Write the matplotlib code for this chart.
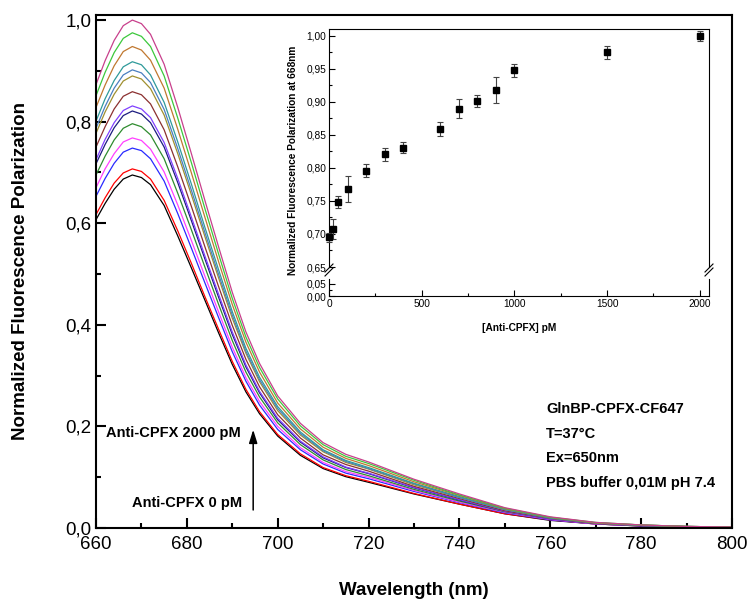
"""Fluorescence polarization spectra of GlnBP-CPFX-CF647 with anti-CPFX titration inset."""

import matplotlib
matplotlib.use("Agg")
import matplotlib.pyplot as plt
from matplotlib.ticker import FuncFormatter, MultipleLocator
import numpy as np

plt.rcParams["font.family"] = ["Liberation Sans", "DejaVu Sans"]

# ── Data ──────────────────────────────────────────────────────────────────
WAVELENGTH = [660, 662, 664, 666, 668, 670, 672, 675, 678, 681, 684, 687, 690, 693,
              696, 700, 705, 710, 715, 720, 730, 740, 750, 760, 770, 780, 790, 800]

FP_0 = [0.607, 0.639, 0.667, 0.687, 0.695, 0.690, 0.676, 0.635, 0.575, 0.512, 0.448, 0.384, 0.322, 0.268,
        0.225, 0.181, 0.143, 0.117, 0.101, 0.090, 0.067, 0.047, 0.028, 0.015, 0.008, 0.004, 0.002, 0.001]
FP_20 = [0.617, 0.650, 0.679, 0.699, 0.707, 0.702, 0.687, 0.645, 0.585, 0.521, 0.455, 0.391, 0.328, 0.273,
         0.229, 0.184, 0.146, 0.119, 0.103, 0.092, 0.068, 0.047, 0.028, 0.016, 0.008, 0.004, 0.002, 0.001]
FP_50 = [0.653, 0.688, 0.718, 0.740, 0.748, 0.743, 0.727, 0.683, 0.619, 0.551, 0.482, 0.414, 0.347, 0.289,
         0.242, 0.194, 0.154, 0.126, 0.108, 0.097, 0.072, 0.050, 0.030, 0.016, 0.008, 0.004, 0.002, 0.001]
FP_100 = [0.670, 0.707, 0.737, 0.760, 0.768, 0.763, 0.746, 0.701, 0.636, 0.566, 0.495, 0.425, 0.356, 0.296,
          0.249, 0.200, 0.158, 0.129, 0.111, 0.100, 0.074, 0.051, 0.031, 0.017, 0.008, 0.005, 0.002, 0.002]
FP_200 = [0.695, 0.732, 0.764, 0.787, 0.796, 0.790, 0.774, 0.727, 0.659, 0.587, 0.513, 0.440, 0.369, 0.307,
          0.258, 0.207, 0.164, 0.134, 0.115, 0.103, 0.076, 0.053, 0.032, 0.018, 0.009, 0.005, 0.002, 0.002]
FP_300 = [0.717, 0.755, 0.788, 0.812, 0.821, 0.815, 0.798, 0.750, 0.680, 0.605, 0.529, 0.454, 0.381, 0.317,
          0.266, 0.213, 0.169, 0.138, 0.119, 0.107, 0.079, 0.055, 0.033, 0.018, 0.009, 0.005, 0.002, 0.002]
FP_400 = [0.725, 0.765, 0.798, 0.822, 0.831, 0.825, 0.808, 0.759, 0.688, 0.612, 0.535, 0.460, 0.386, 0.321,
          0.269, 0.216, 0.171, 0.140, 0.120, 0.108, 0.080, 0.056, 0.033, 0.018, 0.009, 0.005, 0.002, 0.002]
FP_600 = [0.750, 0.790, 0.825, 0.850, 0.859, 0.853, 0.835, 0.784, 0.711, 0.633, 0.553, 0.475, 0.399, 0.332,
          0.278, 0.223, 0.177, 0.144, 0.125, 0.112, 0.082, 0.058, 0.034, 0.019, 0.009, 0.005, 0.003, 0.002]
FP_700 = [0.777, 0.819, 0.854, 0.880, 0.890, 0.884, 0.865, 0.813, 0.737, 0.656, 0.573, 0.492, 0.413, 0.344,
          0.288, 0.231, 0.183, 0.150, 0.129, 0.116, 0.085, 0.060, 0.036, 0.020, 0.010, 0.005, 0.003, 0.002]
FP_800 = [0.787, 0.830, 0.866, 0.892, 0.902, 0.896, 0.877, 0.824, 0.747, 0.665, 0.581, 0.499, 0.419, 0.348,
          0.292, 0.235, 0.186, 0.152, 0.131, 0.117, 0.087, 0.060, 0.036, 0.020, 0.010, 0.005, 0.003, 0.002]
FP_900 = [0.801, 0.845, 0.881, 0.908, 0.918, 0.912, 0.892, 0.838, 0.760, 0.677, 0.591, 0.508, 0.426, 0.354,
          0.297, 0.239, 0.189, 0.154, 0.133, 0.119, 0.088, 0.062, 0.037, 0.020, 0.010, 0.006, 0.003, 0.002]
FP_1000 = [0.828, 0.872, 0.910, 0.938, 0.948, 0.941, 0.921, 0.866, 0.785, 0.699, 0.611, 0.524, 0.440, 0.366,
           0.307, 0.246, 0.195, 0.159, 0.137, 0.123, 0.091, 0.064, 0.038, 0.021, 0.010, 0.006, 0.003, 0.002]
FP_1500 = [0.851, 0.897, 0.936, 0.964, 0.975, 0.968, 0.948, 0.890, 0.807, 0.719, 0.628, 0.539, 0.452, 0.376,
           0.316, 0.254, 0.201, 0.164, 0.141, 0.127, 0.094, 0.065, 0.039, 0.021, 0.011, 0.006, 0.003, 0.002]
FP_2000 = [0.873, 0.920, 0.960, 0.989, 1.000, 0.993, 0.972, 0.913, 0.828, 0.737, 0.644, 0.553, 0.464, 0.386,
           0.324, 0.260, 0.206, 0.168, 0.145, 0.130, 0.096, 0.067, 0.040, 0.022, 0.011, 0.006, 0.003, 0.002]

SPECTRA = [FP_0, FP_20, FP_50, FP_100, FP_200, FP_300, FP_400,
           FP_600, FP_700, FP_800, FP_900, FP_1000, FP_1500, FP_2000]
SPECTRA_COLORS = ["#000000", "#ff0000", "#2a2aff", "#ff40ff", "#2e8b2e", "#1c1c80", "#8040ff",
                  "#8b3030", "#a09030", "#4a7fc0", "#2f9a9a", "#c07830", "#3cc83c", "#c8408c"]

# Inset: normalized FP at 668 nm vs antibody concentration
CONC_PM = [0, 20, 50, 100, 200, 300, 400, 600, 700, 800, 900, 1000, 1500, 2000]
FP_668 = [0.695, 0.707, 0.748, 0.768, 0.796, 0.821, 0.831, 0.859, 0.890, 0.902, 0.918, 0.948, 0.975, 1.000]
FP_668_ERR = [0.007, 0.015, 0.009, 0.020, 0.010, 0.010, 0.008, 0.010, 0.015, 0.009, 0.020, 0.010, 0.010, 0.008]

INFO_LINES = ["GlnBP-CPFX-CF647", "T=37°C", "Ex=650nm", "PBS buffer 0,01M pH 7.4"]


def comma_fmt(decimals):
    return FuncFormatter(lambda v, _: f"{v:.{decimals}f}".replace(".", ","))


def main():
    fig = plt.figure(figsize=(7.47, 6.0), dpi=100)

    # ── Main spectra axes ────────────────────────────────────────────────
    ax = fig.add_axes([96 / 747, 1 - 528 / 600, 636 / 747, 513 / 600])
    for values, color in zip(SPECTRA, SPECTRA_COLORS):
        ax.plot(WAVELENGTH, values, color=color, lw=0.9, solid_joinstyle="round")

    ax.set_xlim(660, 800)
    ax.set_ylim(0, 1.01)
    ax.xaxis.set_major_locator(MultipleLocator(20))
    ax.xaxis.set_minor_locator(MultipleLocator(10))
    ax.yaxis.set_major_locator(MultipleLocator(0.2))
    ax.yaxis.set_minor_locator(MultipleLocator(0.1))
    ax.yaxis.set_major_formatter(comma_fmt(1))
    ax.tick_params(which="both", direction="in", width=1.5, labelsize=13.5)
    ax.tick_params(which="major", length=7)
    ax.tick_params(which="minor", length=3.5)
    ax.tick_params(axis="x", pad=6)
    for s in ax.spines.values():
        s.set_linewidth(1.5)

    ax.set_xlabel("Wavelength (nm)", fontsize=13.5, fontweight="bold", va="center")
    ax.xaxis.set_label_coords(0.5, -0.121)
    ax.set_ylabel("Normalized Fluorescence Polarization", fontsize=13.5,
                  fontweight="bold", va="center")
    ax.yaxis.set_label_coords(-0.119, 0.5)

    # Titration annotations
    ax.text(691.9, 0.187, "Anti-CPFX 2000 pM", ha="right", va="center",
            fontsize=10.5, fontweight="bold")
    ax.text(692.1, 0.049, "Anti-CPFX 0 pM", ha="right", va="center",
            fontsize=10.5, fontweight="bold")
    ax.annotate("", xy=(694.6, 0.199), xytext=(694.6, 0.030),
                arrowprops=dict(arrowstyle="-|>,head_width=0.25,head_length=0.8",
                                color="black", lw=1.1))

    for i, line in enumerate(INFO_LINES):
        ax.text(759.1, 0.234 - i * 0.0485, line, ha="left", va="center",
                fontsize=10.5, fontweight="bold")

    # ── Inset with broken y axis ─────────────────────────────────────────
    left, width = 329 / 747, 380 / 747
    ax_top = fig.add_axes([left, 1 - 267 / 600, width, 238 / 600])
    ax_bot = fig.add_axes([left, 1 - 296 / 600, width, 17 / 600])

    ax_top.errorbar(CONC_PM, FP_668, yerr=FP_668_ERR, fmt="s", color="black",
                    ms=4.8, ecolor="#444444", elinewidth=0.8, capsize=2,
                    capthick=0.8, clip_on=False, zorder=3)

    for a in (ax_top, ax_bot):
        a.set_xlim(0, 2050)
        a.xaxis.set_major_locator(MultipleLocator(500))
        a.xaxis.set_minor_locator(MultipleLocator(250))
        a.yaxis.set_major_formatter(comma_fmt(2))
        a.tick_params(which="both", direction="in", width=0.8, labelsize=7.3,
                      top=False, right=False, pad=2)
        a.tick_params(which="major", length=4)
        a.tick_params(which="minor", length=2)
        for s in a.spines.values():
            s.set_linewidth(0.8)

    ax_top.set_ylim(0.65, 1.0106)
    ax_top.yaxis.set_major_locator(MultipleLocator(0.05))
    ax_top.yaxis.set_minor_locator(MultipleLocator(0.025))
    ax_top.spines["bottom"].set_visible(False)
    ax_top.tick_params(axis="x", which="both", bottom=False, labelbottom=False)

    ax_bot.set_ylim(0, 0.0708)
    ax_bot.set_yticks([0.0, 0.05])
    ax_bot.yaxis.set_minor_locator(MultipleLocator(0.025))
    ax_bot.spines["top"].set_visible(False)

    ax_bot.set_xlabel("[Anti-CPFX] pM", fontsize=7.3, fontweight="bold", labelpad=10)
    ax_top.set_ylabel("Normalized Fluorescence Polarization at 668nm",
                      fontsize=7.3, fontweight="bold", va="center")
    ax_top.yaxis.set_label_coords(-0.095, 0.45)

    # Axis break marks
    mark = dict(color="black", lw=0.8, clip_on=False, transform=fig.transFigure)
    for xpix in (329, 709):
        for dy in (0, 4):
            x0, x1 = (xpix - 4) / 747, (xpix + 4) / 747
            y0, y1 = 1 - (276 + dy - 4) / 600, 1 - (268 + dy - 4) / 600
            fig.lines.append(plt.Line2D([x0, x1], [y0, y1], **mark))

    fig.savefig("out.png", dpi=100, facecolor="white")
    plt.close(fig)


if __name__ == "__main__":
    main()
